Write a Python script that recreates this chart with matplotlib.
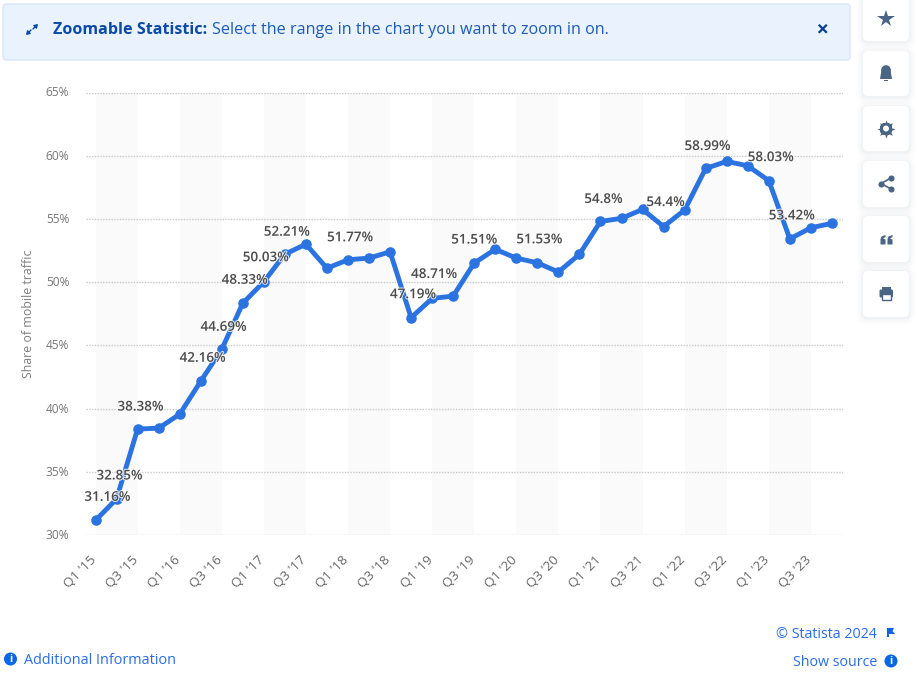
import matplotlib
matplotlib.use('Agg')
import matplotlib.pyplot as plt
from matplotlib.patches import FancyBboxPatch, Circle, Rectangle, Polygon
from matplotlib.transforms import ScaledTranslation
import matplotlib.patheffects as pe

plt.rcParams['font.family'] = ['Open Sans', 'DejaVu Sans']

W, H = 918, 691

# data
quarters = ["Q1 '15", "Q2 '15", "Q3 '15", "Q4 '15", "Q1 '16", "Q2 '16", "Q3 '16", "Q4 '16", "Q1 '17",
            "Q2 '17", "Q3 '17", "Q4 '17", "Q1 '18", "Q2 '18", "Q3 '18", "Q4 '18", "Q1 '19", "Q2 '19",
            "Q3 '19", "Q4 '19", "Q1 '20", "Q2 '20", "Q3 '20", "Q4 '20", "Q1 '21", "Q2 '21", "Q3 '21",
            "Q4 '21", "Q1 '22", "Q2 '22", "Q3 '22", "Q4 '22", "Q1 '23", "Q2 '23", "Q3 '23", "Q4 '23"]
share = [31.16, 32.85, 38.38, 38.45, 39.55, 42.16, 44.69, 48.33, 50.03,
         52.21, 53.0, 51.1, 51.77, 51.9, 52.4, 47.19, 48.71, 48.9,
         51.51, 52.6, 51.9, 51.53, 50.8, 52.2, 54.8, 55.05, 55.75,
         54.4, 55.7, 58.99, 59.55, 59.2, 58.03, 53.42, 54.3, 54.65]
labels = {0: '31.16%', 1: '32.85%', 2: '38.38%', 5: '42.16%', 6: '44.69%', 7: '48.33%', 8: '50.03%',
          9: '52.21%', 12: '51.77%', 15: '47.19%', 16: '48.71%', 18: '51.51%', 21: '51.53%',
          24: '54.8%', 27: '54.4%', 29: '58.99%', 32: '58.03%', 33: '53.42%'}
y_ticks = [30, 35, 40, 45, 50, 55, 60, 65]

# label offsets from the point, in pixels (dx, dy up)
label_off = {0: (12, 23), 1: (3, 23), 2: (3, 22), 5: (2, 23), 6: (2, 22), 7: (2, 23), 8: (2, 24),
             9: (2, 22), 12: (2, 22), 15: (2, 23), 16: (2, 24), 18: (0, 23), 21: (2, 23),
             24: (3, 22), 27: (2, 24), 29: (2, 22), 32: (2, 23), 33: (2, 23)}

fig = plt.figure(figsize=(W / 100, H / 100), dpi=100, facecolor='white')

# page layer in pixel coordinates
page = fig.add_axes([0, 0, 1, 1], zorder=0)
page.set_xlim(0, W)
page.set_ylim(H, 0)
page.axis('off')


def box(x0, y0, x1, y1, r, fc, ec='none', lw=0, alpha=1, z=1):
    p = FancyBboxPatch((x0 + r, y0 + r), x1 - x0 - 2 * r, y1 - y0 - 2 * r,
                       boxstyle='round,pad=%g,rounding_size=%g' % (r, r),
                       fc=fc, ec=ec, lw=lw, alpha=alpha, zorder=z)
    page.add_patch(p)


# banner
box(3, 4, 850, 60, 3, '#e9f2fd', '#d3e3f6', 0.8)
ban_dark = '#0b4aa8'
page.text(53, 30, 'Zoomable Statistic:', fontsize=11.6, fontweight='bold', color=ban_dark, va='center', zorder=3)
page.text(212, 30, 'Select the range in the chart you want to zoom in on.', fontsize=11.6, color='#1d5cb8',
          va='center', zorder=3)
page.annotate('', xy=(26, 35), xytext=(31, 30), zorder=3,
              arrowprops=dict(arrowstyle='-|>,head_width=0.13,head_length=0.2', color=ban_dark, lw=1, shrinkA=0, shrinkB=0))
page.annotate('', xy=(38, 24), xytext=(33, 29), zorder=3,
              arrowprops=dict(arrowstyle='-|>,head_width=0.13,head_length=0.2', color=ban_dark, lw=1, shrinkA=0, shrinkB=0))
page.plot([819.5, 826], [25.5, 32], color='#0a3f8f', lw=1.6, zorder=3)
page.plot([819.5, 826], [32, 25.5], color='#0a3f8f', lw=1.6, zorder=3)

# side buttons
icon_c = '#4a6484'
buttons = [(-6, 41), (51, 96), (106, 151), (161, 207), (216, 262), (271, 317)]
for y0, y1 in buttons:
    for grow, a in [(7, 0.012), (5, 0.015), (3, 0.02), (1.5, 0.03)]:
        box(863 - grow, y0 - grow + 1, 909 + grow, y1 + grow + 1, 5 + grow, '#5a6f8c', alpha=a, z=1)
    box(863, y0, 909, y1, 5, 'white', z=2)

page.plot([886], [19], marker='*', ms=13, color=icon_c, mew=0, zorder=3)
# bell
page.add_patch(Polygon([(880, 79), (881.5, 70), (883.5, 67), (888.5, 67), (890.5, 70), (892, 79)],
                       fc=icon_c, zorder=3))
page.add_patch(Circle((886, 70), 4.8, fc=icon_c, zorder=3))
page.add_patch(Rectangle((884, 80), 4, 1.3, fc=icon_c, zorder=3))
# gear
page.plot([886], [128.5], marker='8', ms=10, color=icon_c, mew=0, zorder=3)
page.plot([886], [128.5], marker=(8, 1, 0), ms=13, color=icon_c, mew=0, zorder=3)
page.add_patch(Circle((886, 128.5), 3, fc='white', zorder=4))
# share
page.plot([891, 881, 891], [178, 183.5, 189], color=icon_c, lw=1.2, zorder=3)
page.plot([891, 881, 891], [178, 183.5, 189], 'o', ms=4.4, color=icon_c, mew=0, zorder=3)
# quote, two blocks with a hook on top
for qx in (880.5, 887.5):
    page.add_patch(Polygon([(qx, 244.5), (qx, 239), (qx + 1, 236.5), (qx + 5, 235), (qx + 5, 237),
                            (qx + 2.5, 238.5), (qx + 5, 239.5), (qx + 5, 244.5)], fc=icon_c, zorder=3))
# print
page.add_patch(FancyBboxPatch((880, 290), 12.5, 7, boxstyle='round,pad=0.5,rounding_size=1.5', fc=icon_c, ec='none', zorder=3))
page.add_patch(Rectangle((882, 287), 8.5, 3, fc=icon_c, zorder=3))
page.add_patch(Rectangle((882, 294), 8.5, 6, fc='white', ec=icon_c, lw=1, zorder=4))

# chart axes, gridlines run from x=86 to x=843, 65% at y=92.5, 30% at y=535
left, right, top, bottom = 86, 843, 92.5, 535
ax = fig.add_axes([left / W, 1 - bottom / H, (right - left) / W, (bottom - top) / H], zorder=1)
ax.patch.set_alpha(0)
step = 21.04
x0 = (left - 95.5) / step
x1 = (right - 95.5) / step
ax.set_xlim(x0, x1)
ax.set_ylim(30, 65)
for s in ax.spines.values():
    s.set_visible(False)

x = list(range(len(share)))
for i in range(0, 34, 4):
    ax.axvspan(x[i], x[i + 2], color='#fafafa', lw=0, zorder=0)
ax.set_yticks(y_ticks)
ax.set_yticklabels(['%d%%' % v for v in y_ticks], fontsize=8.6, color='#767676')
ax.yaxis.grid(True, color='#c9c9c9', lw=1, ls=(0, (1, 1)), zorder=1)
ax.tick_params(axis='y', length=0, pad=12)
up = ScaledTranslation(0, 1 / 100, fig.dpi_scale_trans)
for t in ax.get_yticklabels():
    t.set_transform(t.get_transform() + up)
ax.set_xticks(x[::2])
ax.set_xticklabels(quarters[::2], rotation=45, ha='right', rotation_mode='anchor', fontsize=9.6, color='#666666')
ax.tick_params(axis='x', length=0, pad=13)
shift = ScaledTranslation(-6 / 100, 0, fig.dpi_scale_trans)
for t in ax.get_xticklabels():
    t.set_transform(t.get_transform() + shift)
ax.set_axisbelow(True)

ax.plot(x, share, color='#2a73e0', lw=3.5, marker='o', ms=7.6, mew=0, zorder=3, solid_joinstyle='round')

for i, txt in labels.items():
    dx, dy = label_off[i]
    ax.annotate(txt, (x[i], share[i]), xytext=(dx * 0.72, dy * 0.72), textcoords='offset points',
                ha='center', va='center', fontsize=9.7, fontweight='semibold', color='#4d4d4d', zorder=4,
                path_effects=[pe.withStroke(linewidth=1.5, foreground='white', alpha=0.8)])

page.text(29, 314, 'Share of mobile traffic', rotation=90, fontsize=8.9, color='#7f7f7f', ha='center', va='center', zorder=3)

# footer
link = '#2b6be4'
page.text(24, 660, 'Additional Information', fontsize=10.4, color=link, va='center', zorder=3)
page.text(877, 634, '\u00a9 Statista 2024', fontsize=10.3, color=link, va='center', ha='right', zorder=3)
page.text(877, 663, 'Show source', fontsize=10.3, color=link, va='center', ha='right', zorder=3)
for cx, cy in [(10.5, 659), (891, 661)]:
    page.add_patch(Circle((cx, cy), 6.5, fc='#0a66e4', zorder=3))
    page.text(cx, cy, 'i', fontsize=7.5, fontweight='bold', color='white', ha='center', va='center', zorder=4)
page.add_patch(Polygon([(887, 628), (894, 628), (892.5, 631), (895, 634), (889, 634), (889, 637), (887, 637)],
                       fc='#0a66e4', zorder=3))

fig.savefig('out.png', dpi=100, facecolor='white')
